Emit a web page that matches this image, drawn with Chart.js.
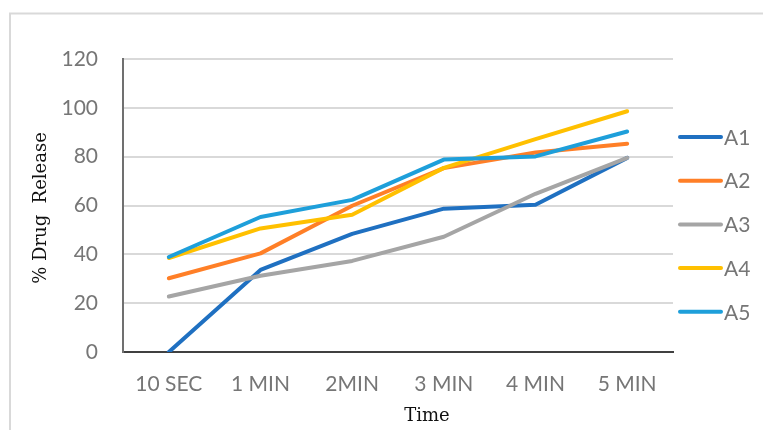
<!DOCTYPE html>
<html>
<head>
<meta charset="utf-8">
<script src="https://cdn.jsdelivr.net/npm/chart.js@4/dist/chart.umd.min.js"></script>
<style>
  html, body { margin: 0; padding: 0; background: #fff; overflow: hidden; }
  #wrap { position: relative; width: 763px; height: 430px; }
</style>
</head>
<body>
<div id="wrap"><canvas id="chart" width="763" height="430"></canvas></div>
<script>
// Time points and % drug release for each formulation
const timeLabels = ['10 SEC', '1 MIN', '2MIN', '3 MIN', '4 MIN', '5 MIN'];
const seriesNames = ['A1', 'A2', 'A3', 'A4', 'A5'];
const a1 = [0, 33.6, 48.4, 58.7, 60.3, 79.5];
const a2 = [30.2, 40.4, 59.9, 75.3, 81.7, 85.3];
const a3 = [22.7, 31.2, 37.3, 47.2, 64.8, 79.5];
const a4 = [38.5, 50.6, 56.2, 75.4, 87.2, 98.6];
const a5 = [38.9, 55.3, 62.3, 78.8, 80.1, 90.3];
const seriesColors = ['#1F70C1', '#FF7F27', '#A5A5A5', '#FFC000', '#1E9FDA'];
const yTicks = [0, 20, 40, 60, 80, 100, 120];

const seriesData = [a1, a2, a3, a4, a5];
const labelGray = '#767676';

const datasets = seriesNames.map((name, i) => ({
  label: name,
  data: seriesData[i],
  borderColor: seriesColors[i],
  backgroundColor: seriesColors[i],
  borderWidth: 4,
  borderCapStyle: 'round',
  borderJoinStyle: 'round',
  pointRadius: 0,
  tension: 0,
  fill: false,
  // later series are painted over earlier ones
  order: seriesNames.length - i
}));

// outer frame, axis titles and the legend on the right
const decorations = {
  id: 'decorations',
  beforeDraw(chart) {
    const ctx = chart.ctx;
    ctx.save();
    ctx.strokeStyle = '#d9d9d9';
    ctx.lineWidth = 2;
    ctx.strokeRect(10, 13.5, 900, 600);
    ctx.restore();
  },
  afterDraw(chart) {
    const ctx = chart.ctx;
    ctx.save();
    ctx.fillStyle = '#111';
    ctx.font = '18px "DejaVu Serif", serif';
    ctx.textAlign = 'center';
    ctx.textBaseline = 'middle';
    ctx.fillText('Time', 427, 416);
    ctx.translate(41, 208);
    ctx.rotate(-Math.PI / 2);
    ctx.fillText('% Drug  Release', 0, 0);
    ctx.restore();

    ctx.save();
    ctx.font = '21px Lato, sans-serif';
    ctx.textAlign = 'left';
    ctx.textBaseline = 'middle';
    seriesNames.forEach((name, i) => {
      const y = 137 + i * 43.7;
      ctx.strokeStyle = seriesColors[i];
      ctx.lineWidth = 4;
      ctx.lineCap = 'round';
      ctx.beginPath();
      ctx.moveTo(680, y);
      ctx.lineTo(721, y);
      ctx.stroke();
      ctx.fillStyle = labelGray;
      ctx.fillText(name, 724, y + 1);
    });
    ctx.restore();
  }
};

new Chart(document.getElementById('chart'), {
  type: 'line',
  data: { labels: timeLabels, datasets },
  options: {
    responsive: false,
    animation: false,
    layout: { padding: { left: 0, right: 90, top: 59, bottom: 0 } },
    plugins: { legend: { display: false }, tooltip: { enabled: false } },
    scales: {
      x: {
        offset: true,
        grid: { display: false, drawTicks: false },
        border: { display: true, color: '#404040', width: 2 },
        ticks: {
          color: labelGray,
          font: { family: 'Lato', size: 21 },
          padding: 20,
          maxRotation: 0,
          autoSkip: false
        },
        afterFit(scale) { scale.height = 78; }
      },
      y: {
        min: 0,
        max: 120,
        afterBuildTicks(scale) { scale.ticks = yTicks.map(v => ({ value: v })); },
        grid: { color: '#d9d9d9', lineWidth: 2, drawTicks: false },
        border: { display: true, color: '#707070', width: 2 },
        ticks: {
          color: labelGray,
          font: { family: 'Lato', size: 21 },
          padding: 25
        },
        afterFit(scale) { scale.width = 123; }
      }
    }
  },
  plugins: [decorations]
});
</script>
</body>
</html>
